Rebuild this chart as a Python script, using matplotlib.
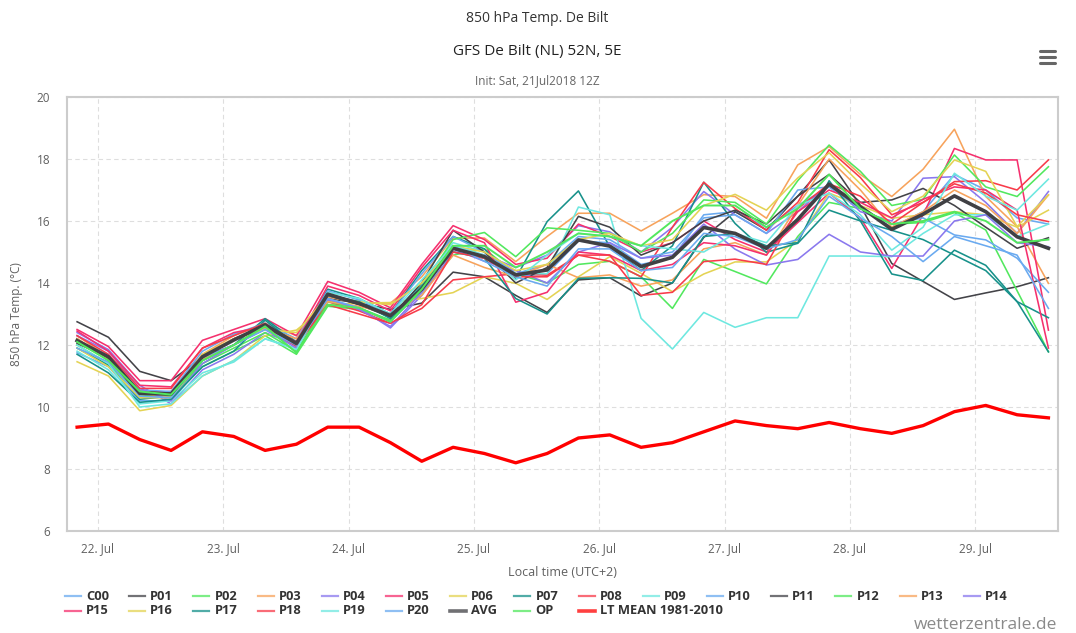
import matplotlib
matplotlib.use("Agg")
import matplotlib.pyplot as plt
import matplotlib.dates as mdates
from matplotlib.lines import Line2D
import pandas as pd

plt.rcParams['font.family'] = ['Open Sans', 'DejaVu Sans']

# 6-hourly forecast steps, local time (UTC+2)
times = pd.date_range('2018-07-21 20:00', periods=32, freq='6h')

members = {
    'C00': [11.75, 11.3, 10.2, 10.2, 11.5, 12.0, 12.55, 12.1, 13.6, 13.35, 12.9,
            13.9, 15.2, 14.9, 14.2, 14.3, 15.35, 15.3, 14.6, 14.8,
            16.2, 16.3, 15.8, 16.5, 17.1, 16.4, 15.8, 16.3, 17.5, 17.0, 16.1, 15.9],
    'P01': [12.75, 12.25, 11.15, 10.85, 11.6, 12.2, 12.6, 12.1, 13.5, 13.35, 13.15,
            13.35, 14.35, 14.2, 13.6, 13.05, 14.1, 14.17, 13.58, 14.0,
            15.47, 16.3, 15.71, 16.8, 17.97, 16.5, 14.63, 14.05, 13.47, 13.68, 13.88, 14.17],
    'P02': [12.0, 11.4, 10.4, 10.3, 11.3, 11.8, 12.3, 11.7, 13.25, 13.15, 12.8,
            13.7, 14.9, 15.1, 14.3, 14.0, 14.6, 14.7, 14.2, 13.18,
            14.76, 14.37, 13.97, 15.5, 16.6, 16.4, 15.9, 15.95, 16.27, 15.71, 13.75, 11.78],
    'P03': [12.3, 11.6, 10.5, 10.45, 11.7, 12.3, 12.7, 12.3, 13.55, 13.35, 13.35,
            14.2, 15.45, 15.45, 14.69, 15.5, 16.25, 16.25, 15.68, 16.25,
            16.85, 16.79, 16.09, 17.81, 18.4, 17.5, 16.79, 17.67, 18.96, 16.79, 15.82, 13.99],
    'P04': [12.4, 11.85, 10.7, 10.1, 11.2, 11.7, 12.4, 12.0, 13.45, 13.2, 12.55,
            13.6, 15.0, 14.9, 14.5, 14.9, 15.85, 15.65, 15.0, 15.8,
            16.95, 16.2, 15.6, 16.3, 17.2, 16.3, 16.0, 17.38, 17.43, 16.6, 15.6, 16.95],
    'P05': [12.5, 11.95, 10.85, 10.85, 12.15, 12.5, 12.85, 12.3, 14.05, 13.7, 13.2,
            14.6, 15.85, 15.4, 14.6, 14.8, 15.9, 15.5, 15.0, 15.3,
            16.0, 15.4, 15.0, 15.95, 16.9, 16.1, 14.47, 16.2, 18.34, 17.97, 17.97, 12.48],
    'P06': [11.46, 11.0, 9.88, 10.05, 11.0, 11.5, 12.3, 12.48, 13.3, 13.35, 13.37,
            13.5, 13.69, 14.2, 13.99, 13.47, 14.2, 14.85, 14.31, 13.72,
            14.29, 14.68, 14.68, 15.4, 16.9, 16.5, 16.09, 16.2, 16.3, 16.2, 15.8, 16.35],
    'P07': [11.9, 11.35, 10.25, 10.35, 11.5, 12.0, 12.85, 12.1, 13.8, 13.5, 13.0,
            14.4, 15.5, 15.1, 14.15, 15.98, 16.97, 15.17, 14.4, 15.2,
            17.25, 15.92, 14.99, 15.28, 16.35, 16.0, 15.7, 15.4, 14.9, 14.4, 13.4, 12.88],
    'P08': [12.2, 11.55, 10.45, 10.5, 11.6, 12.2, 12.55, 11.95, 13.4, 13.1, 12.7,
            13.18, 14.1, 14.2, 14.3, 14.25, 14.9, 14.7, 14.2, 15.8,
            17.25, 16.4, 15.7, 16.6, 18.3, 17.4, 16.2, 16.6, 17.27, 17.3, 17.0, 17.97],
    'P09': [11.8, 11.2, 10.1, 10.2, 11.1, 11.45, 12.2, 11.9, 13.6, 13.35, 12.9,
            14.0, 15.3, 15.0, 14.3, 14.3, 16.45, 16.2, 12.86, 11.87,
            13.05, 12.57, 12.88, 12.88, 14.87, 14.87, 14.85, 15.6, 16.2, 16.2, 15.5, 15.9],
    'P10': [12.1, 11.6, 10.55, 10.5, 11.8, 12.35, 12.7, 12.2, 13.75, 13.45, 13.0,
            14.3, 15.5, 15.0, 14.3, 14.6, 15.5, 15.4, 14.8, 15.0,
            16.1, 16.2, 15.6, 17.0, 17.1, 16.4, 15.9, 16.1, 15.55, 15.39, 14.8, 13.7],
    'P11': [12.05, 11.6, 10.5, 10.45, 11.6, 12.0, 12.6, 12.0, 13.6, 13.3, 12.9,
            14.0, 15.7, 15.0, 14.0, 14.5, 16.15, 15.8, 14.9, 15.3,
            16.0, 16.35, 15.9, 16.8, 17.5, 16.6, 16.68, 17.05, 16.5, 15.8, 15.12, 15.46],
    'P12': [12.2, 11.5, 10.45, 10.35, 11.4, 11.9, 12.4, 11.8, 13.4, 13.2, 12.8,
            13.9, 15.4, 15.63, 14.85, 15.78, 15.7, 15.6, 15.0, 15.6,
            16.68, 16.6, 15.9, 17.3, 18.45, 17.6, 16.5, 16.7, 18.13, 17.1, 16.79, 17.75],
    'P13': [12.2, 11.5, 10.45, 10.3, 11.55, 12.0, 12.55, 12.2, 13.4, 13.25, 13.0,
            13.6, 14.9, 14.5, 14.2, 14.6, 14.17, 14.26, 13.9, 14.1,
            15.1, 15.3, 14.9, 16.5, 18.0, 17.0, 15.8, 16.3, 17.0, 16.5, 15.6, 16.84],
    'P14': [12.3, 11.8, 10.6, 10.2, 11.4, 12.0, 12.5, 11.9, 13.5, 13.15, 12.6,
            13.7, 15.1, 14.7, 14.4, 14.0, 15.0, 15.3, 14.8, 14.9,
            15.9, 15.09, 14.58, 14.76, 15.57, 15.0, 14.87, 14.87, 16.0, 16.2, 15.3, 15.17],
    'P15': [12.45, 11.8, 10.7, 10.65, 11.9, 12.4, 12.6, 12.1, 13.9, 13.6, 13.1,
            14.5, 15.7, 15.3, 13.38, 13.7, 15.0, 14.9, 14.4, 14.6,
            15.3, 15.2, 14.9, 16.3, 17.0, 16.6, 16.1, 16.7, 17.1, 17.0, 16.35, 11.9],
    'P16': [11.9, 11.3, 10.3, 10.3, 11.7, 12.2, 12.5, 12.4, 13.6, 13.4, 13.3,
            14.0, 15.2, 15.0, 14.4, 14.6, 15.4, 15.6, 15.2, 15.4,
            16.5, 16.86, 16.35, 17.39, 18.2, 17.2, 16.3, 16.8, 17.97, 17.6, 15.82, 16.84],
    'P17': [11.7, 11.1, 10.15, 10.25, 11.3, 11.8, 12.8, 12.0, 13.6, 13.4, 12.85,
            13.9, 15.0, 14.8, 13.5, 13.0, 14.15, 14.17, 14.15, 14.0,
            15.5, 15.6, 15.2, 15.3, 17.3, 16.0, 14.29, 14.08, 15.06, 14.57, 13.4, 11.78],
    'P18': [12.3, 11.7, 10.6, 10.6, 11.9, 12.3, 12.7, 12.0, 13.3, 13.0, 12.7,
            13.3, 15.0, 14.8, 14.2, 14.2, 14.9, 14.9, 13.6, 13.7,
            14.69, 14.77, 14.6, 16.4, 17.2, 16.8, 15.9, 16.6, 17.2, 16.9, 16.2, 15.98],
    'P19': [12.0, 11.4, 10.0, 10.1, 11.0, 11.5, 12.2, 11.85, 13.7, 13.5, 13.0,
            14.1, 15.2, 14.9, 14.1, 14.9, 15.6, 15.5, 15.2, 15.1,
            15.0, 15.6, 15.3, 16.5, 16.9, 16.2, 15.06, 15.8, 17.54, 16.8, 16.35, 17.35],
    'P20': [11.9, 11.45, 10.35, 10.3, 11.6, 12.0, 12.5, 12.0, 13.5, 13.2, 12.75,
            13.8, 15.2, 14.7, 14.2, 13.9, 15.1, 15.1, 14.4, 14.5,
            15.6, 15.5, 15.1, 15.4, 16.8, 16.1, 15.5, 14.69, 15.5, 15.2, 14.9, 13.18],
}

avg = [12.14, 11.62, 10.44, 10.42, 11.62, 12.16, 12.65, 12.05, 13.64, 13.34, 12.95,
       13.8, 15.12, 14.85, 14.26, 14.42, 15.39, 15.19, 14.53, 14.83,
       15.79, 15.6, 15.12, 16.05, 17.19, 16.46, 15.73, 16.22, 16.81, 16.3, 15.49, 15.12]

op = [12.1, 11.5, 10.5, 10.4, 11.5, 12.0, 12.6, 11.75, 13.3, 13.2, 12.75,
      13.8, 15.2, 15.2, 14.5, 15.0, 15.6, 15.5, 15.2, 16.0,
      16.5, 16.5, 15.8, 16.4, 17.5, 16.4, 15.9, 16.0, 16.3, 16.0, 15.3, 15.4]

lt_mean = [9.35, 9.45, 8.95, 8.6, 9.2, 9.05, 8.6, 8.8, 9.35, 9.35, 8.85,
           8.25, 8.7, 8.5, 8.2, 8.5, 9.0, 9.1, 8.7, 8.85,
           9.2, 9.55, 9.4, 9.3, 9.5, 9.3, 9.15, 9.4, 9.85, 10.05, 9.75, 9.65]

palette = ['#6aaaf0', '#434348', '#52e85e', '#f7a35c', '#8a78ee',
           '#f5306e', '#e4d354', '#17918a', '#f83b4a', '#6ee8e0']

W, H = 1076, 633
fig = plt.figure(figsize=(W / 100, H / 100), dpi=100)
ax = fig.add_axes([67 / W, 1 - 531 / H, (1058 - 67) / W, (531 - 97) / H])

colors = {}
for k, name in enumerate(members):
    c = palette[k % 10]
    colors[name] = c
    ax.plot(times, members[name], color=c, lw=1.15, zorder=2)

ax.plot(times, avg, color='#404044', lw=2.6, zorder=3)
ax.plot(times, op, color='#52e85e', lw=1.4, zorder=3)
ax.plot(times, lt_mean, color='#ff0000', lw=2.4, zorder=4)

ax.set_ylim(6, 20)
ax.set_yticks(range(6, 21, 2))
ax.set_xlim(pd.Timestamp('2018-07-21 18:04'), pd.Timestamp('2018-07-29 15:50'))
ax.xaxis.set_major_locator(mdates.DayLocator())
ax.xaxis.set_major_formatter(mdates.DateFormatter('%d. %b'))
ax.grid(True, color='#dedede', linestyle=(0, (4, 3)), lw=0.8)
ax.set_axisbelow(True)
for s in ax.spines.values():
    s.set_color('#cccccc')
    s.set_linewidth(1.5)
ax.tick_params(axis='both', length=0, labelsize=8.5, colors='#606060', pad=8)
ax.tick_params(axis='y', pad=12)
ax.set_xlabel('Local time (UTC+2)', fontsize=9, color='#606060', labelpad=8)
ax.set_ylabel('850 hPa Temp. (°C)', fontsize=8.5, color='#606060', labelpad=10)

# titles
fig.text(537 / W, 1 - 19 / H, '850 hPa Temp. De Bilt', ha='center', va='center',
         fontsize=10, color='#333333')
fig.text(537 / W, 1 - 51 / H, 'GFS De Bilt (NL) 52N, 5E', ha='center', va='center',
         fontsize=11, color='#222222')
fig.text(537 / W, 1 - 81 / H, 'Init: Sat, 21Jul2018 12Z', ha='center', va='center',
         fontsize=8.5, color='#666666')

# menu icon
for dy in (51, 57, 63):
    fig.add_artist(Line2D([1040 / W, 1055 / W], [1 - dy / H, 1 - dy / H],
                          transform=fig.transFigure, color='#666666', lw=2.2,
                          solid_capstyle='round'))

# legend, laid out on a fixed grid
entries = list(members) + ['AVG', 'OP', 'LT MEAN 1981-2010']
colors['AVG'] = '#404044'
colors['OP'] = '#52e85e'
colors['LT MEAN 1981-2010'] = '#ff0000'
for n, name in enumerate(entries):
    row, col = divmod(n, 15)
    x0 = 65 + col * 64.2
    y0 = 596 + row * 14.5
    lw = 2.6 if name in ('AVG', 'LT MEAN 1981-2010') else 1.6
    fig.add_artist(Line2D([x0 / W, (x0 + 16) / W], [1 - y0 / H, 1 - y0 / H],
                          transform=fig.transFigure, color=colors[name], lw=lw,
                          alpha=0.75))
    fig.text((x0 + 21) / W, 1 - y0 / H, name, ha='left', va='center',
             fontsize=9.3, fontweight='bold', color='#333333')

fig.text(1057 / W, 1 - 625 / H, 'wetterzentrale.de', ha='right', va='center',
         fontsize=12.5, color='#8a8a8a')

fig.savefig('out.png', dpi=100)
